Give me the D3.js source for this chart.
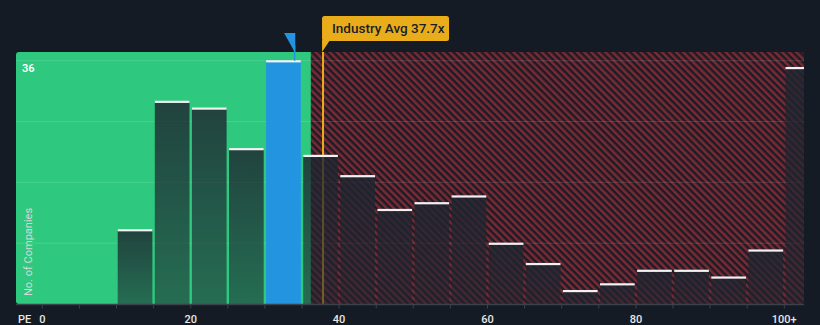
<!DOCTYPE html>
<html><head><meta charset="utf-8">
<script src="https://cdn.jsdelivr.net/npm/d3@7"></script>
<style>
html,body{margin:0;padding:0;background:#151b25;}
svg{display:block;font-family:Roboto, "Open Sans", sans-serif;}
</style></head>
<body><svg id="c" width="820" height="325"></svg>
<script>
const binStarts = [10,15,20,25,30,35,40,45,50,55,60,65,70,75,80,85,90,95,100];
const counts    = [11,30,29,23,36,22,19,14,15,16,9,6,2,3,5,5,4,8,35];
const highlightBin = 30;
const companyPE = 34.0;
const industryAvg = 37.7;
const fairBoundary = 36.2;
const tickValues = [0,20,40,60,80,100];
const tickLabels = ["0","20","40","60","80","100+"];
const yGridValues = [9,18,27,36];
const yLabel = "36";

const svg = d3.select("#c");
const L = 16, R = 804, T = 52, B = 304;
const x = d3.scaleLinear().domain([0,100]).range([42.3,784.3]);
const y = d3.scaleLinear().domain([0,36]).range([B,60.7]);

const defs = svg.append("defs");
const pat = defs.append("pattern").attr("id","hatch").attr("patternUnits","userSpaceOnUse")
  .attr("width",5).attr("height",5).attr("patternTransform","rotate(-45)");
pat.append("rect").attr("width",5).attr("height",5).attr("fill","#1d1c26");
pat.append("rect").attr("width",2.5).attr("height",5).attr("fill","#7a2a34");
const grad = defs.append("linearGradient").attr("id","barg").attr("x1",0).attr("x2",0).attr("y1",0).attr("y2",1);
grad.append("stop").attr("offset","0%").attr("stop-color","#1e2530").attr("stop-opacity",0.82);
grad.append("stop").attr("offset","100%").attr("stop-color","#1e2530").attr("stop-opacity",0.56);
defs.append("clipPath").attr("id","plot").append("rect").attr("x",L).attr("y",T).attr("width",R-L).attr("height",B-T).attr("rx",3);

const g = svg.append("g").attr("clip-path","url(#plot)");
g.append("rect").attr("x",L).attr("y",T).attr("width",x(fairBoundary)-L).attr("height",B-T).attr("fill","#2ec97e");
g.append("rect").attr("x",x(fairBoundary)).attr("y",T).attr("width",R-x(fairBoundary)+5).attr("height",B-T).attr("fill","url(#hatch)");

g.selectAll("line.grid").data(yGridValues).join("line").attr("class","grid")
  .attr("x1",L).attr("x2",R).attr("y1",d=>y(d)).attr("y2",d=>y(d))
  .attr("stroke","rgba(255,255,255,0.13)").attr("stroke-width",1);

const ax = x(industryAvg) + 1;
g.append("line").attr("x1",ax).attr("x2",ax).attr("y1",T-14).attr("y2",B)
  .attr("stroke","#e9ad1b").attr("stroke-width",2);

const bw = x(5)-x(0);
const bars = g.selectAll("g.bar").data(binStarts.map((s,i)=>({s,c:counts[i]}))).join("g").attr("class","bar");
bars.append("rect").attr("x",d=>x(d.s)+1.2).attr("width",bw-2.4).attr("y",d=>y(d.c)).attr("height",d=>B-y(d.c))
  .attr("fill",d=>d.s===highlightBin?"#2394e0":"url(#barg)");
bars.append("rect").attr("x",d=>x(d.s)+1.2).attr("width",bw-2.4).attr("y",d=>y(d.c)-0.5).attr("height",2.2)
  .attr("fill","#f2f2f2");

// axis
svg.append("line").attr("x1",L).attr("x2",R).attr("y1",B+0.5).attr("y2",B+0.5).attr("stroke","#3c424c").attr("stroke-width",1.5);
const ticks = d3.range(0,101,5);
svg.selectAll("line.tick").data(ticks).join("line").attr("class","tick")
  .attr("x1",d=>x(d)).attr("x2",d=>x(d)).attr("y1",B).attr("y2",B+4.5).attr("stroke","#3c424c").attr("stroke-width",1);
svg.selectAll("text.tl").data(tickValues).join("text").attr("class","tl")
  .attr("x",d=>x(d)).attr("y",322.5).attr("text-anchor","middle").attr("fill","#e8e8e8")
  .attr("font-size",11).attr("font-weight",500).text((d,i)=>tickLabels[i]);
svg.append("text").attr("x",18).attr("y",322.5).attr("fill","#e8e8e8").attr("font-size",11).attr("font-weight",500).text("PE");
svg.append("text").attr("x",22).attr("y",72).attr("fill","#ffffff").attr("font-size",11).attr("font-weight",600).text(yLabel);
svg.append("text").attr("transform","translate(32,296) rotate(-90)").attr("fill","#d8d8d8").attr("font-size",11).text("No. of Companies");

// company marker
const cx = x(companyPE);
svg.append("line").attr("x1",cx).attr("x2",cx).attr("y1",45).attr("y2",y(36)).attr("stroke","#2394e0").attr("stroke-width",1.5);
svg.append("path").attr("d",`M${cx-10.5},33 L${cx+0.7},33 L${cx+0.7},53 Z`).attr("fill","#2394e0");

// industry annotation
const ann = svg.append("g");
ann.append("path").attr("d",`M${ax-1},40 L${ax+7},40 L${ax-1},52 Z`).attr("fill","#e9ad1b");
ann.append("rect").attr("x",ax-1).attr("y",16).attr("width",127).attr("height",25).attr("rx",2.5).attr("fill","#e9ad1b");
ann.append("text").attr("x",ax+9).attr("y",33).attr("fill","#1b1d22").attr("font-size",13.5).attr("font-weight",500).text("Industry Avg 37.7x");
</script></body></html>
